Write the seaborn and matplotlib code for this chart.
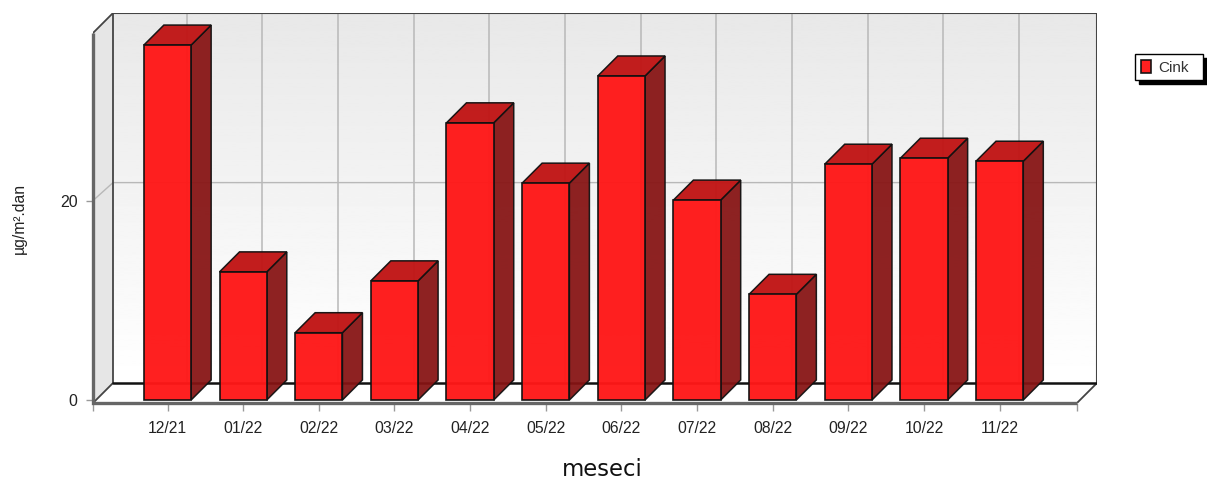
import numpy as np
import pandas as pd
import matplotlib
matplotlib.use("Agg")
import matplotlib.pyplot as plt
from matplotlib.patches import Polygon
import seaborn as sns

months = ["12/21", "01/22", "02/22", "03/22", "04/22", "05/22",
          "06/22", "07/22", "08/22", "09/22", "10/22", "11/22"]
cink = [35.6, 12.85, 6.75, 11.95, 27.8, 21.75, 32.5, 20.05, 10.6, 23.65, 24.25, 23.95]
series_name = "Cink"
y_ticks = [0, 20]
x_title = "meseci"
y_title = "µg/m².dan"

sns.set_theme(style="white")
plt.rcParams["font.family"] = ["Liberation Sans", "DejaVu Sans"]

W, H = 1207, 483
PX_X, PX_Y = 75.65, 9.97         # pixels per category / per unit
DX, DY = 20 / PX_X, 20 / PX_Y    # 3-D depth in data units
X0 = (93 - 167.5) / PX_X         # front-plane left edge
X1 = (1077 - 167.5) / PX_X       # front-plane right edge
YB = -3 / PX_Y                   # floor level
YT = 367 / PX_Y                  # front-plane top
BAR_W = 0.625
GRID_DX = DX - 0.8 / PX_X
GRID_DY = DY - 2 / PX_Y

fig = plt.figure(figsize=(W / 100, H / 100), dpi=100, facecolor="white")
ax = fig.add_axes([93 / W, 1 - 403 / H, 1004 / W, 390 / H])
for s in ax.spines.values():
    s.set_visible(False)
ax.set_facecolor("none")

# back wall gradient
grad = np.linspace(0.91, 1.0, 256).reshape(-1, 1)
ax.imshow(grad, cmap="gray", vmin=0, vmax=1, aspect="auto", zorder=0,
          extent=(X0 + DX, X1 + DX, YB + DY, YT + DY), origin="upper")
# left wall and floor
ax.add_patch(Polygon([(X0, YB), (X0 + DX, YB + DY), (X0 + DX, YT + DY), (X0, YT)],
                     fc="#e6e6e6", ec="none", zorder=1))
ax.add_patch(Polygon([(X0, YB), (X0 + DX, YB + DY), (X1 + DX, YB + DY), (X1, YB)],
                     fc="white", ec="none", zorder=1))
# grid on the back wall
for i in range(len(months)):
    ax.plot([i + GRID_DX, i + GRID_DX], [YB + DY, YT + DY], color="#b8b8b8", lw=1.1, zorder=1.5)
for t in y_ticks[1:]:
    ax.plot([X0, X0 + DX, X1 + DX], [t, t + GRID_DY, t + GRID_DY], color="#b8b8b8", lw=1.0, zorder=1.5)
# wall frame
frame = "#444444"
ax.plot([X0 + DX, X1 + DX, X1 + DX], [YT + DY, YT + DY, YB + DY], color=frame, lw=1.5, zorder=1.8)
ax.plot([X0 + DX, X0 + DX], [YB + DY, YT + DY], color=frame, lw=1.3, zorder=1.8)
ax.plot([X0, X0 + DX], [YT, YT + DY], color=frame, lw=1.3, zorder=1.8)
ax.plot([X0, X0 + DX], [YB, YB + DY], color=frame, lw=1.3, zorder=1.8)
ax.plot([X1, X1 + DX], [YB, YB + DY], color=frame, lw=1.3, zorder=1.8)
ax.plot([X0 + DX, X1 + DX], [YB + DY, YB + DY], color="#111111", lw=1.8, zorder=1.8)
ax.plot([X0, X0, X1], [YT, YB, YB], color="#666666", lw=2.4, zorder=1.9,
        solid_capstyle="butt", solid_joinstyle="miter", clip_on=False)

# bars
df = pd.DataFrame({"mesec": months, "vrednost": cink})
sns.barplot(data=df, x="mesec", y="vrednost", order=months, color="#ff1818", saturation=1,
            width=BAR_W, edgecolor="#111111", linewidth=1.2, alpha=0.97, label=series_name,
            legend=True, ax=ax, zorder=3)
for i, v in enumerate(cink):
    l, r = i - BAR_W / 2, i + BAR_W / 2
    ax.add_patch(Polygon([(r, 0), (r + DX, DY), (r + DX, v + DY), (r, v)], closed=True,
                         fc="#871414", ec="#111111", lw=1.1, alpha=0.94, zorder=2.5))
    ax.add_patch(Polygon([(l, v), (l + DX, v + DY), (r + DX, v + DY), (r, v)], closed=True,
                         fc="#c01414", ec="#111111", lw=1.1, alpha=0.96, zorder=2.5))

ax.set_xlim(X0, X1 + DX)
ax.set_ylim(YB, YT + DY)
ax.grid(False)

# axes
ax.set_xticks([X0] + list(range(len(months))) + [X1], [""] + months + [""])
ax.set_yticks(y_ticks)
ax.tick_params(axis="x", length=6, width=1, color="#999999", labelsize=11.3, labelcolor="#222222",
               pad=7, bottom=True)
ax.tick_params(axis="y", length=5, width=1, color="#999999", labelsize=11.5, labelcolor="#222222",
               pad=6, left=True)
ax.set_xlabel("")
ax.set_ylabel("")
fig.text(602 / W, 1 - 470 / H, x_title, ha="center", va="center", fontsize=16.4,
         family="DejaVu Sans", color="#111111")
fig.text(19 / W, 1 - 218 / H, y_title, ha="center", va="center", rotation=90,
         fontsize=11.3, color="#222222")

# legend
ax.legend(loc="upper left", bbox_to_anchor=(1135 / W, 1 - 54 / H, 68 / W, 0.0),
          bbox_transform=fig.transFigure, mode="expand",
          fontsize=11, frameon=True, fancybox=False, edgecolor="black", facecolor="white",
          framealpha=1, handlelength=0.7, handleheight=1.0, handletextpad=0.45,
          borderpad=0.36, borderaxespad=0, labelcolor="#333333",
          shadow={"facecolor": "black", "edgecolor": "black", "alpha": 1, "ox": 3, "oy": -3})

fig.savefig("out.png", dpi=100, facecolor="white")
